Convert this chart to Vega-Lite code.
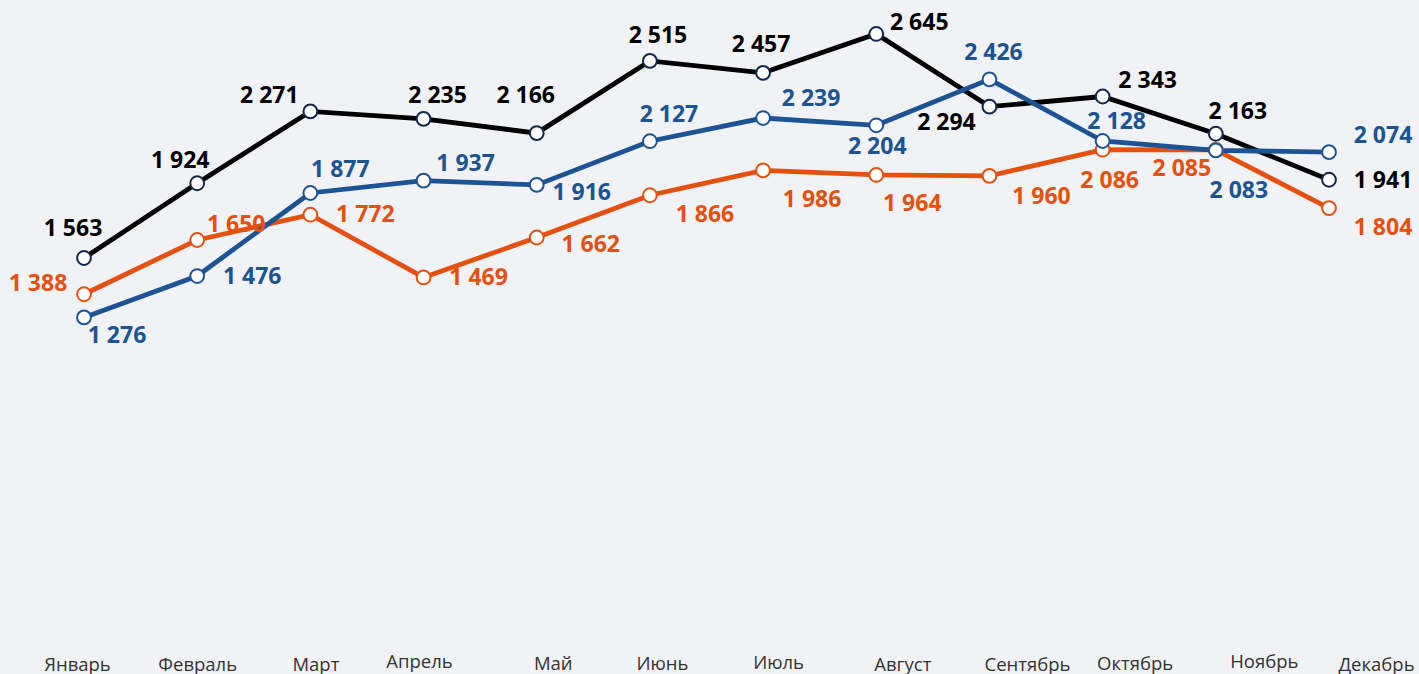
{
  "$schema": "https://vega.github.io/schema/vega-lite/v6.json",
  "width": 1419,
  "height": 674,
  "autosize": "none",
  "padding": 0,
  "background": "#f0f2f5",
  "config": {
    "view": {"stroke": null},
    "locale": {"number": {"decimal": ",", "thousands": "\u00a0", "grouping": [3], "currency": ["", ""]}}
  },
  "data": {
    "values": [
      {"m": "Январь", "s": "Ряд 3", "v": 1388},
      {"m": "Февраль", "s": "Ряд 3", "v": 1650},
      {"m": "Март", "s": "Ряд 3", "v": 1772},
      {"m": "Апрель", "s": "Ряд 3", "v": 1469},
      {"m": "Май", "s": "Ряд 3", "v": 1662},
      {"m": "Июнь", "s": "Ряд 3", "v": 1866},
      {"m": "Июль", "s": "Ряд 3", "v": 1986},
      {"m": "Август", "s": "Ряд 3", "v": 1964},
      {"m": "Сентябрь", "s": "Ряд 3", "v": 1960},
      {"m": "Октябрь", "s": "Ряд 3", "v": 2086},
      {"m": "Ноябрь", "s": "Ряд 3", "v": 2085},
      {"m": "Декабрь", "s": "Ряд 3", "v": 1804},
      {"m": "Январь", "s": "Ряд 1", "v": 1563},
      {"m": "Февраль", "s": "Ряд 1", "v": 1924},
      {"m": "Март", "s": "Ряд 1", "v": 2271},
      {"m": "Апрель", "s": "Ряд 1", "v": 2235},
      {"m": "Май", "s": "Ряд 1", "v": 2166},
      {"m": "Июнь", "s": "Ряд 1", "v": 2515},
      {"m": "Июль", "s": "Ряд 1", "v": 2457},
      {"m": "Август", "s": "Ряд 1", "v": 2645},
      {"m": "Сентябрь", "s": "Ряд 1", "v": 2294},
      {"m": "Октябрь", "s": "Ряд 1", "v": 2343},
      {"m": "Ноябрь", "s": "Ряд 1", "v": 2163},
      {"m": "Декабрь", "s": "Ряд 1", "v": 1941},
      {"m": "Январь", "s": "Ряд 2", "v": 1276},
      {"m": "Февраль", "s": "Ряд 2", "v": 1476},
      {"m": "Март", "s": "Ряд 2", "v": 1877},
      {"m": "Апрель", "s": "Ряд 2", "v": 1937},
      {"m": "Май", "s": "Ряд 2", "v": 1916},
      {"m": "Июнь", "s": "Ряд 2", "v": 2127},
      {"m": "Июль", "s": "Ряд 2", "v": 2239},
      {"m": "Август", "s": "Ряд 2", "v": 2204},
      {"m": "Сентябрь", "s": "Ряд 2", "v": 2426},
      {"m": "Октябрь", "s": "Ряд 2", "v": 2128},
      {"m": "Ноябрь", "s": "Ряд 2", "v": 2083},
      {"m": "Декабрь", "s": "Ряд 2", "v": 2074}
    ]
  },
  "encoding": {
    "x": {
      "field": "m",
      "type": "ordinal",
      "sort": ["Январь", "Февраль", "Март", "Апрель", "Май", "Июнь", "Июль", "Август", "Сентябрь", "Октябрь", "Ноябрь", "Декабрь"],
      "scale": {"type": "point", "range": [84, 1329], "padding": 0},
      "axis": {
        "title": null,
        "domain": false,
        "ticks": false,
        "tickSize": 0,
        "grid": false,
        "offset": -7,
        "labelAngle": 0,
        "labelBaseline": "alphabetic",
        "labelFont": "Open Sans",
        "labelFontSize": 18.5,
        "labelColor": "#333333",
        "labelOverlap": false,
        "labelPadding": {
          "condition": [
            {"test": "datum.value === 'Апрель' || datum.value === 'Ноябрь'", "value": 0},
            {"test": "datum.value === 'Июль'", "value": 1},
            {"test": "datum.value === 'Май' || datum.value === 'Июнь' || datum.value === 'Октябрь'", "value": 2}
          ],
          "value": 3
        },
        "labelOffset": {
          "condition": [
            {"test": "datum.value === 'Январь'", "value": -7},
            {"test": "datum.value === 'Март'", "value": 5},
            {"test": "datum.value === 'Апрель'", "value": -4.5},
            {"test": "datum.value === 'Май'", "value": 16},
            {"test": "datum.value === 'Июнь'", "value": 12},
            {"test": "datum.value === 'Июль'", "value": 15},
            {"test": "datum.value === 'Август'", "value": 26},
            {"test": "datum.value === 'Сентябрь'", "value": 37.5},
            {"test": "datum.value === 'Октябрь'", "value": 32},
            {"test": "datum.value === 'Ноябрь'", "value": 48},
            {"test": "datum.value === 'Декабрь'", "value": 47}
          ],
          "value": 0
        }
      }
    },
    "y": {
      "field": "v",
      "type": "quantitative",
      "scale": {"domain": [-446, 2809], "nice": false, "zero": false},
      "axis": null
    }
  },
  "layer": [
    {
      "mark": {"type": "line", "strokeWidth": 4.8},
      "encoding": {
        "color": {
          "field": "s",
          "type": "nominal",
          "scale": {"domain": ["Ряд 1", "Ряд 2", "Ряд 3"], "range": ["#000000", "#1b5394", "#e5500f"]},
          "legend": null
        }
      }
    },
    {
      "mark": {"type": "point", "filled": false, "fill": "#ffffff", "fillOpacity": 1, "opacity": 1, "strokeWidth": 2, "size": 190},
      "encoding": {
        "stroke": {
          "field": "s",
          "type": "nominal",
          "scale": {"domain": ["Ряд 1", "Ряд 2", "Ряд 3"], "range": ["#12284a", "#1b5394", "#e5500f"]},
          "legend": null
        }
      }
    },
    {
      "mark": {
        "type": "text",
        "font": "Open Sans",
        "fontSize": 23,
        "fontWeight": "bold",
        "align": "center",
        "baseline": "middle",
        "dx": {"expr": "({'Ряд 1':[-11,-17,-41,14,-11,8,-2,43,-43,45,22,54],'Ряд 2':[33,55,30,42,45,19,48,1,4,14,23,54],'Ряд 3':[-46,39,55,55,54,55,49,36,52,7,-34,54]})[datum.s][indexof(['Январь','Февраль','Март','Апрель','Май','Июнь','Июль','Август','Сентябрь','Октябрь','Ноябрь','Декабрь'], datum.m)]"},
        "dy": {"expr": "({'Ряд 1':[-29,-22,-15,-23,-37,-25,-28,-11,16,-15,-22,1],'Ряд 2':[19,1,-23,-17,8,-26,-19,22,-26,-19,41,-16],'Ряд 3':[-10,-15,0,1,7,20,30,29,21,31,19,20]})[datum.s][indexof(['Январь','Февраль','Март','Апрель','Май','Июнь','Июль','Август','Сентябрь','Октябрь','Ноябрь','Декабрь'], datum.m)]"}
      },
      "encoding": {
        "text": {"field": "v", "type": "quantitative", "format": ",d"},
        "color": {
          "field": "s",
          "type": "nominal",
          "scale": {"domain": ["Ряд 1", "Ряд 2", "Ряд 3"], "range": ["#000000", "#1b5394", "#e5500f"]},
          "legend": null
        }
      }
    }
  ]
}
